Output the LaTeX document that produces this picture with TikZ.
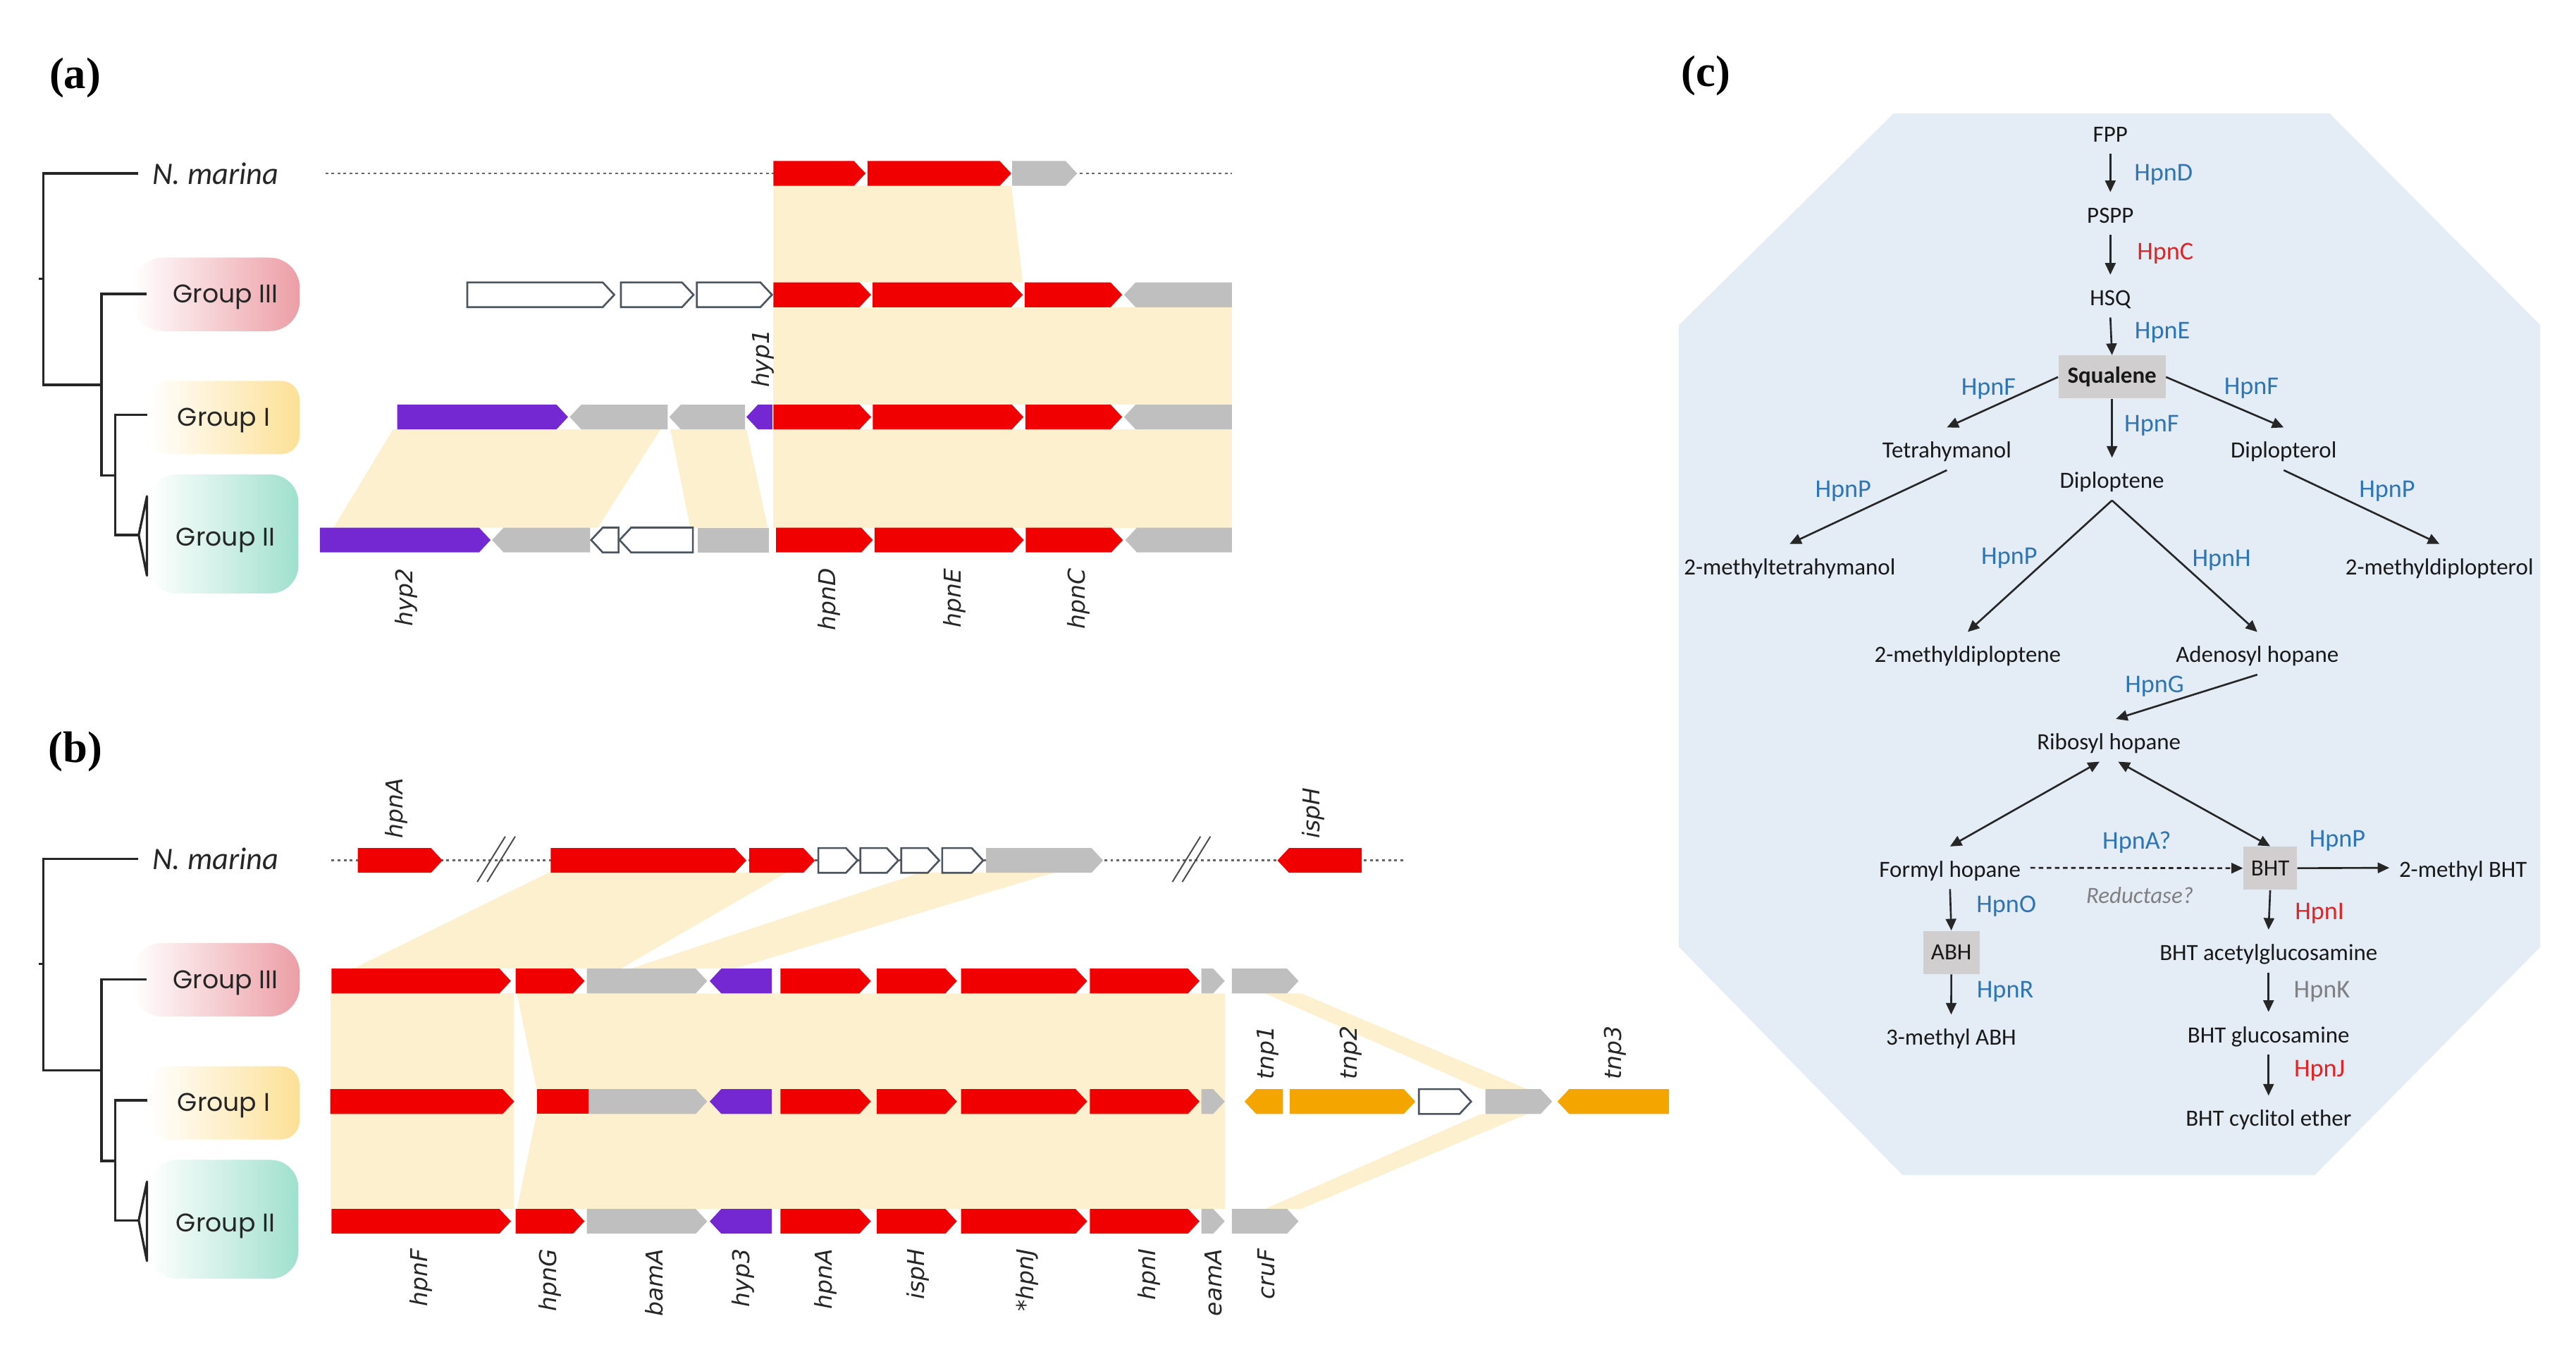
\documentclass[tikz,border=0pt]{standalone}
\usepackage{fontspec}
\setmainfont{Carlito}
\newfontfamily\genefont{DejaVu Sans}
\newfontfamily\grpfont{Poppins}
\newfontfamily\panelfont{Liberation Serif}
\usetikzlibrary{arrows.meta,calc}

\definecolor{hpnred}{RGB}{240,0,0}
\definecolor{othergray}{RGB}{191,191,191}
\definecolor{hyppurple}{RGB}{115,40,210}
\definecolor{tnporange}{RGB}{245,165,0}
\definecolor{synbeige}{RGB}{253,240,207}
\definecolor{outlinegray}{RGB}{75,85,95}
\definecolor{pathblue}{RGB}{228,236,246}
\definecolor{enzblue}{RGB}{46,117,182}
\definecolor{enzred}{RGB}{222,38,38}
\definecolor{enzgray}{RGB}{128,128,128}
\definecolor{boxgray}{RGB}{208,206,206}
\definecolor{grpIII}{RGB}{236,158,165}
\definecolor{grpI}{RGB}{252,224,150}
\definecolor{grpII}{RGB}{160,224,205}

\newcommand{\glabfont}{\genefont\itshape\fontsize{10}{12}\selectfont}
\newcommand{\cpdfont}{\fontsize{10}{12}\selectfont}
\newcommand{\enzfont}{\fontsize{11}{13}\selectfont}

% gene arrows: {style}{row y}{x start}{x end}
\newcommand{\gfwd}[4]{\path[#1] (#3,#2-7.5) -- (#4-7,#2-7.5) -- (#4,#2) -- (#4-7,#2+7.5) -- (#3,#2+7.5) -- cycle;}
\newcommand{\grev}[4]{\path[#1] (#3,#2) -- (#3+7,#2-7.5) -- (#4,#2-7.5) -- (#4,#2+7.5) -- (#3+7,#2+7.5) -- cycle;}
\newcommand{\gbox}[4]{\path[#1] (#3,#2-7.5) rectangle (#4,#2+7.5);}

\tikzset{
  hpn/.style={fill=hpnred},
  oth/.style={fill=othergray},
  hyp/.style={fill=hyppurple},
  tnp/.style={fill=tnporange},
  unk/.style={fill=white,draw=outlinegray,line width=0.8pt},
  syn/.style={fill=synbeige},
  contig/.style={draw=black!60,line width=0.9pt,dash pattern=on 1.2pt off 1.4pt},
  brk/.style={draw=black!70,line width=0.6pt},
  tree/.style={draw=black!85,line width=1pt},
  tag/.style={left color=white,middle color=#1!30,right color=#1},
  grp/.style={font=\grpfont\fontsize{11}{13}\selectfont,text=black!85,inner sep=0pt},
  species/.style={font=\itshape\fontsize{13.5}{15}\selectfont,text=black!85,inner sep=0pt},
  genelab/.style={font=\glabfont,text=black!85,rotate=90,inner sep=0pt},
  panel/.style={font=\panelfont\bfseries\fontsize{19}{22}\selectfont,inner sep=0pt},
  cpd/.style={font=\cpdfont,text=black!90,text height=9pt,text depth=1pt,inner sep=4pt,anchor=base},
  keybox/.style={font=\cpdfont,text=black!90,fill=boxgray,inner sep=0pt,minimum height=0.65cm},
  enz/.style={font=\enzfont,text=enzblue,inner sep=0pt,anchor=base},
  rx/.style={draw=black!85,line width=0.8pt,-{Triangle[length=5pt,width=4.5pt]}},
  rxx/.style={draw=black!85,line width=0.8pt,{Triangle[length=5pt,width=4.5pt]}-{Triangle[length=5pt,width=4.5pt]}}
}

\begin{document}
\begin{tikzpicture}[x=0.025cm,y=-0.025cm,>=Latex]
\useasboundingbox (0,0) rectangle (1560,822.5);

% Panel labels
\node[panel] (pa) at (45.5,47) {(a)};
\node[panel] (pb) at (45.5,455) {(b)};
\node[panel] (pc) at (1033,46) {(c)};

% Trees and group tags
\foreach \dy/\p in {0/a,415/b}{
\begin{scope}[shift={(0,\dy)}]
\shade[tag=grpIII,rounded corners=13pt] (80,156) rectangle (181.5,200.5);
\shade[tag=grpI,rounded corners=8pt] (90,230.6) rectangle (181.4,275);
\shade[tag=grpII,rounded corners=12pt] (90,287.3) rectangle (180.7,359.3);
\draw[tree] (83.7,105) -- (26.3,105) -- (26.3,233) -- (61.5,233);
\draw[tree] (26.3,168.8) -- (23.5,168.8);
\draw[tree] (88.9,178) -- (61.5,178) -- (61.5,288) -- (69.7,288);
\draw[tree] (89.4,251.3) -- (69.7,251.3) -- (69.7,324) -- (84,324);
\draw[tree,line join=round] (84,324) -- (89,300.5) -- (89,348.5) -- cycle;
\node[species,anchor=west] (nm\p) at (92,105) {N. marina};
\node[grp] (gIII\p) at (136.6,180) {Group III};
\node[grp] (gI\p) at (135.5,254.4) {Group I};
\node[grp] (gII\p) at (136.6,327.2) {Group II};
\end{scope}
}

%% === (a) hpnCDE region ===
% Synteny
\fill[syn] (468.4,112.5) -- (612.4,112.5) -- (619.5,171) -- (468.4,171) -- cycle;
\fill[syn] (468.4,186) rectangle (746,245);
\fill[syn] (468.4,260) rectangle (746,319.5);
\fill[syn] (238,260) -- (400,260) -- (362,319.5) -- (202,319.5) -- cycle;
\fill[syn] (406,260) -- (452,260) -- (465,319.5) -- (418,319.5) -- cycle;

% N. marina
\draw[contig] (197,105) -- (746,105);
\gfwd{hpn}{105}{468.4}{524.2}
\gfwd{hpn}{105}{525.3}{612.4}
\gfwd{oth}{105}{612.9}{652.3}
% Group III
\gfwd{unk}{178.5}{283}{372}
\gfwd{unk}{178.5}{376}{420}
\gfwd{unk}{178.5}{422}{467.5}
\gfwd{hpn}{178.5}{468.4}{527.5}
\gfwd{hpn}{178.5}{528.4}{619.4}
\gfwd{hpn}{178.5}{620.5}{679.6}
\grev{oth}{178.5}{680.7}{746}
% Group I
\gfwd{hyp}{252.5}{240.6}{344}
\grev{oth}{252.5}{345}{404.3}
\grev{oth}{252.5}{405.3}{451.2}
\grev{hyp}{252.5}{452}{467.7}
\gfwd{hpn}{252.5}{468.4}{527.5}
\gfwd{hpn}{252.5}{528.6}{619.8}
\gfwd{hpn}{252.5}{621}{679.6}
\grev{oth}{252.5}{680.7}{746}
% Group II
\gfwd{hyp}{327}{193.7}{297.1}
\grev{oth}{327}{298}{357.4}
\grev{unk}{327}{358}{374.6}
\grev{unk}{327}{375.2}{419.6}
\gbox{oth}{327}{422.5}{465.6}
\gfwd{hpn}{327}{470}{528.6}
\gfwd{hpn}{327}{529.6}{620}
\gfwd{hpn}{327}{621.2}{680}
\grev{oth}{327}{681.5}{746}

% Gene names
\node[genelab,anchor=west] (lhyp1) at (462,235) {hyp1};
\foreach \x/\g in {246/hyp2,502/hpnD,578/hpnE,653/hpnC}
  \node[genelab,anchor=east] (la\g) at (\x,344) {\g};

%% === (b) hpnFG / BHT region ===
% Synteny
\fill[syn] (332,528.5) -- (476,528.5) -- (376,586.5) -- (214,586.5) -- cycle;
\fill[syn] (557,528.5) -- (638,528.5) -- (445,586.5) -- (382,586.5) -- cycle;
\fill[syn] (200,601.5) rectangle (311,732);
\fill[syn] (313,601.5) -- (742,601.5) -- (742,732) -- (313,732) -- (325,674.5) -- (325,659.5) -- cycle;
\fill[syn] (766,601.5) -- (788,601.5) -- (925,659.5) -- (897,659.5) -- cycle;
\fill[syn] (766,732) -- (788,732) -- (925,674.5) -- (897,674.5) -- cycle;

% N. marina
\draw[contig] (200.8,521) -- (849.8,521);
\foreach \bx in {289,710}{
  \draw[brk] (\bx,534) -- (\bx+17,506.5);
  \draw[brk] (\bx+6,534) -- (\bx+23,506.5);
}
\gfwd{hpn}{521}{216.7}{268}
\gfwd{hpn}{521}{333.5}{452}
\gfwd{hpn}{521}{453.8}{493.5}
\foreach \a/\b in {495.6/519.3,521/544,545.8/568.8,570.6/595.4}
  {\gfwd{unk}{521}{\a}{\b}}
\gfwd{oth}{521}{597.2}{668}
\grev{hpn}{521}{773.6}{824.6}

% Group III and Group II
\foreach \y in {594,739.5}{
  \gfwd{hpn}{\y}{200.8}{309.4}
  \gfwd{hpn}{\y}{312.3}{354}
  \gfwd{oth}{\y}{355.4}{428.3}
  \grev{hyp}{\y}{429.8}{467.3}
  \gfwd{hpn}{\y}{472.6}{527.4}
  \gfwd{hpn}{\y}{531}{579.5}
  \gfwd{hpn}{\y}{582}{658.4}
  \gfwd{hpn}{\y}{660}{726.4}
  \gfwd{oth}{\y}{727.5}{741.7}
  \gfwd{oth}{\y}{746}{786.4}
}
% Group I
\gfwd{hpn}{667}{200}{311.4}
\gbox{hpn}{667}{325.2}{356.4}
\gfwd{oth}{667}{356.4}{428.3}
\grev{hyp}{667}{429.8}{467.3}
\gfwd{hpn}{667}{472.6}{527.4}
\gfwd{hpn}{667}{531}{579.5}
\gfwd{hpn}{667}{582}{658.4}
\gfwd{hpn}{667}{660}{726.4}
\gfwd{oth}{667}{727.5}{741.7}
\grev{tnp}{667}{753.7}{777}
\gfwd{tnp}{667}{781}{857.1}
\gfwd{unk}{667}{859.3}{890.9}
\gfwd{oth}{667}{899.6}{940}
\grev{tnp}{667}{943.2}{1010.7}

% Gene names
\node[genelab,anchor=west] (lbhpnA) at (240,508) {hpnA};
\node[genelab,anchor=west] (lbispH) at (795.5,508) {ispH};
\foreach \x/\g in {767.8/tnp1,818/tnp2,978/tnp3}
  \node[genelab,anchor=west] (lb\g) at (\x,654) {\g};
\foreach \x/\g/\n in {255/hpnF/1,333/hpnG/2,396/bamA/3,450/hyp3/4,500/hpnA/5,556/ispH/6,622/*hpnJ/7,696/hpnI/8,735/eamA/9,767/cruF/10}
  \node[genelab,anchor=east] (lbot\n) at (\x,756) {\g};

%% === (c) hopanoid pathway ===
\fill[pathblue] (1146.7,68.7) -- (1410.8,68.7) -- (1538.4,196.9) -- (1538.4,573.4)
  -- (1401.8,711.5) -- (1152.1,711.5) -- (1016.7,573.4) -- (1016.7,196.9) -- cycle;

% Compounds
\node[cpd] (fpp) at (1278,85.8) {FPP};
\node[cpd] (pspp) at (1278,134.9) {PSPP};
\node[cpd] (hsq) at (1278,184.9) {HSQ};
\node[keybox,minimum width=1.62cm] (sq) at (1279,228.3) {\textbf{Squalene}};
\node[cpd] (tetra) at (1179,277.4) {Tetrahymanol};
\node[cpd] (dpol) at (1383,277.4) {Diplopterol};
\node[cpd] (dpen) at (1279,295.7) {Diploptene};
\node[cpd] (mtetra) at (1083.8,347.9) {2-methyltetrahymanol};
\node[cpd] (mdpol) at (1477.3,347.9) {2-methyldiplopterol};
\node[cpd] (mdpen) at (1191.6,401.2) {2-methyldiploptene};
\node[cpd] (adeno) at (1367,401.2) {Adenosyl hopane};
\node[cpd] (ribo) at (1277.1,453.9) {Ribosyl hopane};
\node[cpd] (formyl) at (1180.9,531.1) {Formyl hopane};
\node[keybox,minimum width=0.81cm] (bht) at (1374.8,525.7) {BHT};
\node[cpd] (mbht) at (1491.6,531.1) {2-methyl BHT};
\node[keybox,minimum width=0.85cm] (abh) at (1181.7,576.7) {ABH};
\node[cpd] (mabh) at (1181.6,632.9) {3-methyl ABH};
\node[cpd] (acetyl) at (1373.8,581.5) {BHT acetylglucosamine};
\node[cpd] (gluc) at (1373.8,631.3) {BHT glucosamine};
\node[cpd] (cyclitol) at (1373.8,682) {BHT cyclitol ether};

% Reactions
\draw[rx] (fpp.south) -- (pspp.north);
\draw[rx] (pspp.south) -- (hsq.north);
\draw[rx] (hsq.south) -- (sq.north);
\draw[rx] (sq.west) -- (tetra.north);
\draw[rx] (sq.east) -- (dpol.north);
\draw[rx] (sq.south) -- (dpen.north);
\draw[rx] (tetra.south) -- (mtetra.north);
\draw[rx] (dpol.south) -- (mdpol.north);
\draw[rx] (dpen.south) -- (mdpen.north);
\draw[rx] (dpen.south) -- (adeno.north);
\draw[rx] (adeno.south) -- ([xshift=3pt]ribo.north);
\draw[rxx] ([xshift=-4pt]ribo.south) -- (formyl.north);
\draw[rxx] ([xshift=4pt]ribo.south) -- (bht.north);
\draw[rx,dash pattern=on 2pt off 1.5pt] (formyl.east) -- (bht.west);
\draw[rx] (bht.east) -- (mbht.west);
\draw[rx] (formyl.south) -- (abh.north);
\draw[rx] (abh.south) -- (mabh.north);
\draw[rx] (bht.south) -- (acetyl.north);
\draw[rx] (acetyl.south) -- (gluc.north);
\draw[rx] (gluc.south) -- (cyclitol.north);

% Enzymes
\node[enz] (eD) at (1310.2,109.4) {HpnD};
\node[enz,text=enzred] (eC) at (1311.3,157.2) {HpnC};
\node[enz] (eE) at (1309.5,205.2) {HpnE};
\node[enz] (eF1) at (1204.2,239.4) {HpnF};
\node[enz] (eF2) at (1363.4,239) {HpnF};
\node[enz] (eF3) at (1303,261.4) {HpnF};
\node[enz] (eP1) at (1116.2,301) {HpnP};
\node[enz] (eP2) at (1445.6,301) {HpnP};
\node[enz] (eP3) at (1216.8,341.8) {HpnP};
\node[enz] (eH) at (1345.4,342.9) {HpnH};
\node[enz] (eG) at (1304.8,419.3) {HpnG};
\node[enz] (eA) at (1294,514) {HpnA?};
\node[enz,font=\cpdfont\itshape,text=enzgray] (eRed) at (1295.8,547) {Reductase?};
\node[enz] (eP4) at (1415.5,512.9) {HpnP};
\node[enz] (eO) at (1215,552.7) {HpnO};
\node[enz] (eR) at (1214.3,604.1) {HpnR};
\node[enz,text=enzred] (eI) at (1404.7,556.9) {HpnI};
\node[enz,text=enzgray] (eK) at (1406.1,604.1) {HpnK};
\node[enz,text=enzred] (eJ) at (1404.7,652.1) {HpnJ};
\end{tikzpicture}
\end{document}
